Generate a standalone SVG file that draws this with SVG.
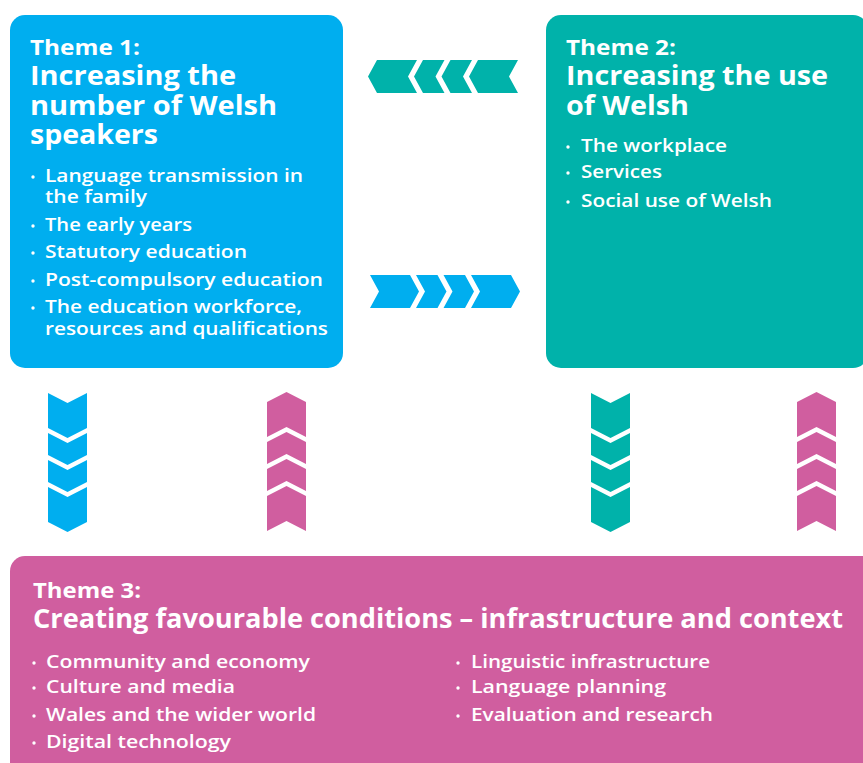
<svg xmlns="http://www.w3.org/2000/svg" xmlns:xlink="http://www.w3.org/1999/xlink" width="863" height="763" viewBox="0 0 863 763">
<style>
.t{font-family:"Open Sans","Liberation Sans",sans-serif;fill:#fff}
.lab{font-size:21px;font-weight:700}
.ttl{font-size:26px;font-weight:700}
.bul{font-size:18px;font-weight:600}
.dot{fill:#fff}
.blue{fill:#00AEEF}
.teal{fill:#00B2AA}
.pink{fill:#D05E9F}
</style>
<defs>
<path id="vstack" d="M0 0 L19.5 10 L39 0 V35 L19.5 45 L0 35Z M0 40 L19.5 50 L39 40 V62 L19.5 72 L0 62Z M0 67 L19.5 77 L39 67 V89 L19.5 99 L0 89Z M0 94 L19.5 104 L39 94 V129 L19.5 139 L0 129Z"/>
</defs>
<rect width="863" height="763" fill="#fff"/>

<g id="theme1">
<rect class="blue" x="10" y="15" width="333" height="353" rx="15"/>
<text class="t lab" x="30" y="55" textLength="110" lengthAdjust="spacingAndGlyphs">Theme 1:</text>
<text class="t ttl" x="30" y="85" textLength="206" lengthAdjust="spacingAndGlyphs">Increasing the</text>
<text class="t ttl" x="30" y="115" textLength="247" lengthAdjust="spacingAndGlyphs">number of Welsh</text>
<text class="t ttl" x="30" y="144" textLength="128" lengthAdjust="spacingAndGlyphs">speakers</text>
<circle class="dot" cx="33" cy="177" r="1.7"/>
<circle class="dot" cx="33" cy="226" r="1.7"/>
<circle class="dot" cx="33" cy="253" r="1.7"/>
<circle class="dot" cx="33" cy="281" r="1.7"/>
<circle class="dot" cx="33" cy="308" r="1.7"/>
<text class="t bul" x="45" y="182" textLength="258" lengthAdjust="spacingAndGlyphs">Language transmission in</text>
<text class="t bul" x="45" y="203" textLength="102" lengthAdjust="spacingAndGlyphs">the family</text>
<text class="t bul" x="45" y="231" textLength="147" lengthAdjust="spacingAndGlyphs">The early years</text>
<text class="t bul" x="45" y="258" textLength="202" lengthAdjust="spacingAndGlyphs">Statutory education</text>
<text class="t bul" x="45" y="286" textLength="278" lengthAdjust="spacingAndGlyphs">Post-compulsory education</text>
<text class="t bul" x="45" y="313" textLength="257" lengthAdjust="spacingAndGlyphs">The education workforce,</text>
<text class="t bul" x="45" y="335" textLength="283" lengthAdjust="spacingAndGlyphs">resources and qualifications</text>
</g>

<g id="theme2">
<rect class="teal" x="546" y="15" width="322" height="353" rx="15"/>
<text class="t lab" x="566" y="55" textLength="110" lengthAdjust="spacingAndGlyphs">Theme 2:</text>
<text class="t ttl" x="566" y="85" textLength="262" lengthAdjust="spacingAndGlyphs">Increasing the use</text>
<text class="t ttl" x="566" y="115" textLength="123" lengthAdjust="spacingAndGlyphs">of Welsh</text>
<circle class="dot" cx="568" cy="147" r="1.7"/>
<circle class="dot" cx="568" cy="173" r="1.7"/>
<circle class="dot" cx="568" cy="202" r="1.7"/>
<text class="t bul" x="581" y="152" textLength="146" lengthAdjust="spacingAndGlyphs">The workplace</text>
<text class="t bul" x="581" y="178" textLength="81" lengthAdjust="spacingAndGlyphs">Services</text>
<text class="t bul" x="581" y="207" textLength="191" lengthAdjust="spacingAndGlyphs">Social use of Welsh</text>
</g>

<g id="theme3">
<rect class="pink" x="10" y="556" width="870" height="230" rx="15"/>
<text class="t lab" x="33" y="598" textLength="108" lengthAdjust="spacingAndGlyphs">Theme 3:</text>
<text class="t ttl" x="33" y="628" textLength="810" lengthAdjust="spacingAndGlyphs">Creating favourable conditions – infrastructure and context</text>
<circle class="dot" cx="34" cy="663" r="1.7"/>
<circle class="dot" cx="34" cy="688" r="1.7"/>
<circle class="dot" cx="34" cy="716" r="1.7"/>
<circle class="dot" cx="34" cy="743" r="1.7"/>
<text class="t bul" x="46" y="668" textLength="264" lengthAdjust="spacingAndGlyphs">Community and economy</text>
<text class="t bul" x="46" y="693" textLength="189" lengthAdjust="spacingAndGlyphs">Culture and media</text>
<text class="t bul" x="46" y="721" textLength="270" lengthAdjust="spacingAndGlyphs">Wales and the wider world</text>
<text class="t bul" x="46" y="748" textLength="185" lengthAdjust="spacingAndGlyphs">Digital technology</text>
<circle class="dot" cx="458" cy="663" r="1.7"/>
<circle class="dot" cx="458" cy="688" r="1.7"/>
<circle class="dot" cx="458" cy="716" r="1.7"/>
<text class="t bul" x="471" y="668" textLength="239" lengthAdjust="spacingAndGlyphs">Linguistic infrastructure</text>
<text class="t bul" x="471" y="693" textLength="195" lengthAdjust="spacingAndGlyphs">Language planning</text>
<text class="t bul" x="471" y="721" textLength="242" lengthAdjust="spacingAndGlyphs">Evaluation and research</text>
</g>

<g id="connectors">
<path class="teal" d="M377 60 H417 L408 76.5 L417 93 H377 L368 76.5Z M423 60 H444.5 L435.5 76.5 L444.5 93 H423 L414 76.5Z M450.5 60 H472 L463 76.5 L472 93 H450.5 L441.5 76.5Z M478 60 H518 L509 76.5 L518 93 H478 L469 76.5Z"/>
<path class="blue" d="M370 275 H410 L419 291.5 L410 308 H370 L379 291.5Z M416 275 H437.5 L446.5 291.5 L437.5 308 H416 L425 291.5Z M443.5 275 H465 L474 291.5 L465 308 H443.5 L452.5 291.5Z M471 275 H511 L520 291.5 L511 308 H471 L480 291.5Z"/>
<use xlink:href="#vstack" class="blue" transform="translate(48,393)"/>
<use xlink:href="#vstack" class="pink" transform="translate(267,531) scale(1,-1)"/>
<use xlink:href="#vstack" class="teal" transform="translate(591,393)"/>
<use xlink:href="#vstack" class="pink" transform="translate(797,531) scale(1,-1)"/>
</g>
</svg>
